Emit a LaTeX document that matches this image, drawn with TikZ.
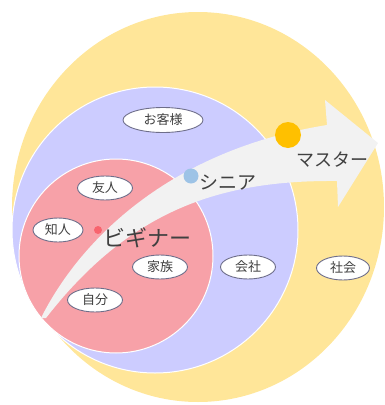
\documentclass[tikz,border=0pt]{standalone}
\usepackage{fontspec}
\newfontfamily\jp{Noto Sans CJK JP}
\usetikzlibrary{shapes.geometric}
\definecolor{cyellow}{HTML}{FFE699}
\definecolor{cblue}{HTML}{CCCCFF}
\definecolor{cpink}{HTML}{F7A1A8}
\definecolor{carrow}{HTML}{F2F2F2}
\definecolor{corange}{HTML}{FFC000}
\definecolor{cdotblue}{HTML}{9DC3E6}
\definecolor{cdotred}{HTML}{F8646E}
\definecolor{ctext}{HTML}{404040}
\definecolor{cedge}{HTML}{6E6E8A}
\tikzset{
  lbl/.style={ellipse, draw=cedge, line width=0.9pt, fill=white, inner sep=0pt,
    minimum height=24pt, text=ctext, font=\jp\fontsize{13}{13}\selectfont},
  stage/.style={anchor=west, inner sep=0pt, text=ctext},
  dotnode/.style={circle, inner sep=0pt, draw=none}
}
\begin{document}
\begin{tikzpicture}[x=1pt,y=-1pt]
\useasboundingbox (0,0) rectangle (385,405);
\begin{scope}
\clip (0,0) rectangle (385,405);
\fill[cyellow] (198,207) ellipse [x radius=186, y radius=195];
\end{scope}
\filldraw[fill=cblue, draw=white, line width=1pt] (155,230) circle [radius=143];
\filldraw[fill=cpink, draw=white, line width=1pt] (116,256) circle [radius=97];
% arrow
\fill[carrow] (41,318) .. controls (80,240) and (170,150) .. (327,125)
  -- (325,100) -- (378,143) -- (338,207) -- (337,181)
  .. controls (220,180) and (130,210) .. (46,318) -- cycle;
% labels
\node[lbl, minimum width=80pt, minimum height=25pt] (okyaku) at (163,120) {お客様};
\node[lbl, minimum width=55pt] (yujin) at (105,188) {友人};
\node[lbl, minimum width=50pt] (chijin) at (58,230) {知人};
\node[lbl, minimum width=55pt] (kazoku) at (160,267) {家族};
\node[lbl, minimum width=55pt] (jibun) at (95,300) {自分};
\node[lbl, minimum width=55pt] (kaisha) at (248,267) {会社};
\node[lbl, minimum width=53pt] (shakai) at (343,268) {社会};
% dots
\node[dotnode, fill=cdotred, minimum size=8pt] (dr) at (98,230) {};
\node[dotnode, fill=cdotblue, minimum size=15pt] (db) at (191,176) {};
\node[dotnode, fill=corange, minimum size=26pt] (do) at (288,135) {};
% stage texts
\node[stage, font=\jp\fontsize{22}{22}\selectfont] (beg) at (103,238) {ビギナー};
\node[stage, font=\jp\fontsize{19}{19}\selectfont] (sen) at (199,183) {シニア};
\node[stage, font=\jp\fontsize{18}{18}\selectfont] (mas) at (296,160) {マスター};
\end{tikzpicture}
\end{document}
